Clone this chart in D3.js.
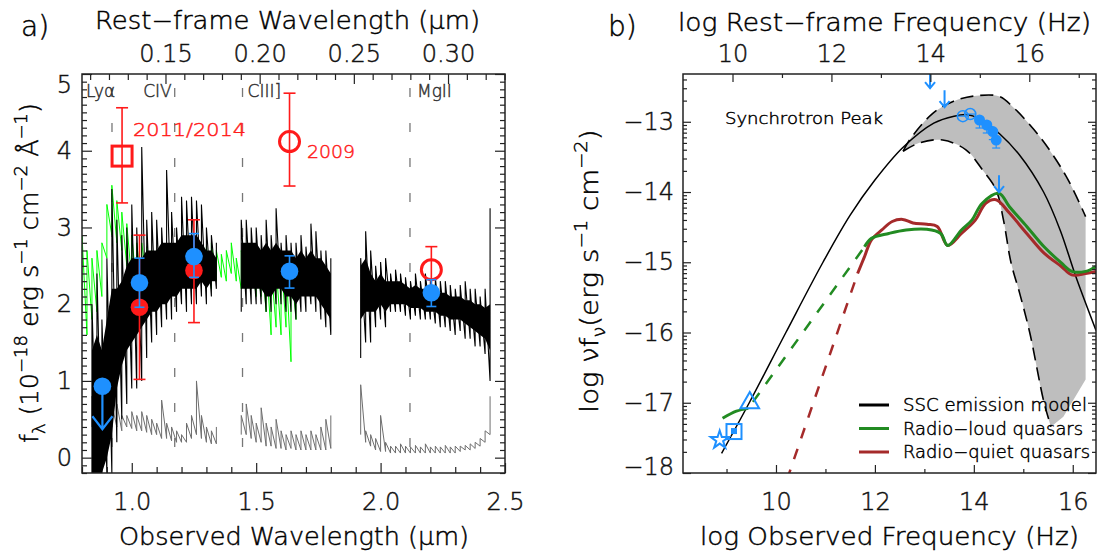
<!DOCTYPE html>
<html>
<head>
<meta charset="utf-8">
<script src="https://cdn.jsdelivr.net/npm/d3@7"></script>
<style>
body { margin: 0; background: #fff; }
text { font-family: "DejaVu Sans", sans-serif; font-weight: 200; }
</style>
</head>
<body>
<div id="chart"></div>
<script>
// ---------- panel a: spectrum ----------
var onePlusZ = 7.57;
var lineRest = [0.1216, 0.1549, 0.1909, 0.2798];
var lineNames = ["Lyα", "CIV", "CIII]", "MgII"];

// spectrum sampled in 0.02 um bins (three chunks with gaps between)
var specWave = [0.84,0.86,0.88,0.90,0.92,0.94,0.96,0.98,1.00,1.02,1.04,1.06,1.08,1.10,1.12,1.14,1.16,1.18,1.20,1.22,1.24,1.26,1.28,1.30,1.32,1.34,
  1.44,1.46,1.48,1.50,1.52,1.54,1.56,1.58,1.60,1.62,1.64,1.66,1.68,1.70,1.72,1.74,1.76,1.78,1.80,
  1.92,1.94,1.96,1.98,2.00,2.02,2.04,2.06,2.08,2.10,2.12,2.14,2.16,2.18,2.20,2.22,2.24,2.26,2.28,2.30,2.32,2.34,2.36,2.38,2.40,2.42,2.44];
var blackMin = [-0.2,-0.2,-0.2,-0.2,-0.2,0.2,0.5,0.7,0.9,0.9,1.0,1.3,1.5,1.6,1.7,1.8,1.8,1.9,2.0,1.9,2.0,2.0,2.1,2.0,2.1,2.2,
  1.9,2.0,2.0,2.0,2.0,1.9,1.9,2.0,2.0,1.9,1.9,1.8,1.9,1.9,2.0,1.9,1.8,1.7,1.6,
  1.3,1.5,1.5,1.7,1.8,1.7,1.9,1.9,1.9,1.85,1.8,1.85,1.8,1.8,1.8,1.75,1.7,1.7,1.65,1.6,1.65,1.55,1.55,1.45,1.45,1.35,1.0];
var blackLo = [-0.2,-0.2,-0.2,0.0,0.3,0.9,1.2,1.4,1.5,1.6,1.7,1.8,1.9,1.9,2.0,2.0,2.1,2.1,2.2,2.2,2.2,2.2,2.3,2.2,2.3,2.3,
  2.2,2.2,2.2,2.2,2.2,2.1,2.1,2.2,2.2,2.1,2.1,2.0,2.1,2.1,2.1,2.1,2.0,1.9,1.8,
  1.8,1.9,1.9,1.9,2.0,1.9,2.0,2.0,2.0,2.0,1.95,1.95,1.95,1.9,1.9,1.9,1.85,1.85,1.8,1.8,1.8,1.75,1.7,1.65,1.6,1.55,1.4];
var blackHi = [1.4,1.6,1.4,1.8,2.2,2.2,2.3,2.5,2.6,2.6,2.6,2.7,2.7,2.7,2.8,2.8,2.8,2.8,2.9,2.9,2.9,2.9,2.8,2.7,2.7,2.6,
  2.8,2.8,2.8,2.8,2.7,2.8,2.7,2.8,2.7,2.7,2.7,2.6,2.7,2.6,2.7,2.6,2.6,2.5,2.4,
  2.5,2.6,2.4,2.3,2.4,2.3,2.3,2.3,2.3,2.25,2.2,2.25,2.2,2.2,2.2,2.2,2.15,2.15,2.1,2.1,2.1,2.05,2.05,2.0,2.0,1.95,2.0];
var blackMax = [2.0,2.4,1.8,2.6,3.5,3.1,2.9,3.0,3.3,3.0,4.05,3.1,3.2,3.1,3.0,3.75,3.2,3.0,3.4,3.35,3.4,3.35,3.3,3.0,2.9,2.8,
  3.1,3.1,3.0,3.0,2.9,3.1,2.9,3.25,2.8,2.9,2.8,2.8,2.9,2.75,3.05,2.95,2.7,2.7,2.6,
  2.6,2.95,2.7,2.5,2.55,2.6,2.4,2.45,2.4,2.35,2.3,2.4,2.3,2.4,2.3,2.35,2.3,2.3,2.25,2.2,2.25,2.3,2.2,2.2,2.1,2.2,3.25];
var errLo = [0.4,0.5,0.5,0.45,0.4,0.4,0.35,0.4,0.38,0.35,0.35,0.33,0.3,0.3,0.25,0.25,0.22,0.2,0.2,0.2,0.25,0.3,0.25,0.2,0.18,0.18,
  0.3,0.3,0.25,0.2,0.2,0.15,0.15,0.12,0.12,0.1,0.12,0.1,0.1,0.1,0.1,0.1,0.1,0.1,0.12,
  0.3,0.2,0.15,0.1,0.08,0.08,0.06,0.06,0.06,0.06,0.06,0.06,0.06,0.06,0.06,0.06,0.06,0.06,0.06,0.06,0.08,0.1,0.1,0.12,0.15,0.2,0.3];
var errHi = [0.8,0.9,0.8,0.75,0.7,0.7,0.55,0.55,0.6,0.55,0.6,0.55,0.5,0.45,0.75,0.45,0.4,0.35,0.3,0.45,0.55,1.0,0.55,0.4,0.35,0.4,
  0.55,0.7,0.55,0.45,0.65,0.45,0.4,0.5,0.35,0.3,0.35,0.3,0.35,0.3,0.35,0.3,0.4,0.5,0.55,
  0.95,0.35,0.3,0.25,0.55,0.2,0.15,0.15,0.18,0.15,0.14,0.16,0.14,0.18,0.14,0.15,0.14,0.16,0.14,0.15,0.15,0.16,0.18,0.2,0.25,0.35,0.8];

// second (green) spectrum
var greenWave = [0.80,0.82,0.84,0.86,0.88,0.90,0.92,0.94,0.96,0.98,1.00,1.02,1.04,1.06,1.08,1.10,1.12,1.14,1.16,1.18,1.20,1.22,
  1.24,1.26,1.28,1.30,1.32,1.34,1.36,1.38,1.40,1.42,1.44,1.46,1.48,1.50,1.52,1.54,1.56,1.58,1.60,1.62,1.64,1.66];
var greenLo = [1.9,1.6,1.8,1.9,2.1,2.6,2.9,2.8,2.7,2.5,2.3,2.2,2.2,2.3,2.2,2.2,2.2,2.25,2.2,2.2,2.2,2.3,
  2.3,2.2,2.3,2.3,2.2,2.3,2.35,2.3,2.4,2.3,2.2,2.2,2.2,2.1,2.1,1.9,1.6,1.7,1.6,1.7,1.25,1.8];
var greenHi = [2.9,2.7,2.6,2.7,2.8,3.3,3.55,3.35,3.2,3.05,2.9,2.8,2.8,2.75,2.7,2.7,2.65,2.7,2.6,2.6,2.65,2.7,
  2.6,2.7,2.7,2.75,2.8,2.7,2.65,2.7,2.8,2.6,2.7,2.7,2.6,2.6,2.7,2.6,2.5,2.5,2.6,2.5,2.5,2.4];

// photometry (10^-18 erg/s/cm2/A)
var redWave = [0.961, 1.634, 2.204, 1.031, 1.25];
var redFlux = [3.93, 4.12, 2.45, 1.96, 2.44];
var redLo = [3.32, 3.54, 2.2, 1.02, 1.76];
var redHi = [4.56, 4.75, 2.75, 2.9, 3.1];
var redSet = ["2011/2014", "2009", "2009", "other", "other"];
var blueWave = [1.031, 1.25, 1.634, 2.204];
var blueFlux = [2.28, 2.62, 2.43, 2.15];
var blueLo = [1.96, 2.35, 2.21, 1.97];
var blueHi = [2.6, 2.92, 2.63, 2.32];
var blueLimWave = [0.882];
var blueLimFlux = [0.93];
var blueLimTo = [0.37];

// ---------- panel b: SED ----------
var sscNu = [8.90, 9.46, 10.2, 10.95, 11.5, 12.0, 12.56, 13.19, 13.6, 13.88, 14.12, 14.52, 14.92, 15.41, 15.75, 16.06, 16.47];
var sscF = [-17.72, -17.0, -16.0, -15.0, -14.33, -13.83, -13.37, -13.02, -12.92, -12.90, -12.96, -13.17, -13.47, -14.0, -14.55, -15.2, -15.97];
var bandUpNu = [12.57, 12.70, 13.17, 13.58, 14.05, 14.52, 14.79, 15.33, 15.87, 16.26];
var bandUpF = [-13.42, -13.26, -12.88, -12.71, -12.63, -12.64, -12.79, -13.21, -13.78, -14.35];
var bandLowNu = [12.57, 12.9, 13.37, 13.84, 14.18, 14.45, 14.6, 14.75, 14.93, 15.13, 15.42, 15.56];
var bandLowF = [-13.42, -13.3, -13.26, -13.4, -13.69, -13.97, -14.4, -15.0, -15.45, -16.0, -17.0, -17.34];
var bandEdgeNu = [16.26, 15.81];
var bandEdgeF = [-16.67, -17.2];
var rlRadioNu = [8.92, 9.2, 9.44];
var rlRadioF = [-17.22, -17.12, -17.08];
var rlGapNu = [9.44, 11.79];
var rlGapF = [-17.08, -14.78];
var rlNu = [11.79, 11.93, 12.28, 12.63, 13.05, 13.33, 13.47, 13.75, 13.96, 14.17, 14.51, 14.72, 15.07, 15.42, 15.77, 15.98, 16.26, 16.47];
var rlF = [-14.78, -14.66, -14.59, -14.54, -14.53, -14.59, -14.76, -14.54, -14.40, -14.16, -14.02, -14.21, -14.49, -14.78, -15.01, -15.13, -15.13, -15.06];
var rqGapNu = [10.22, 11.65];
var rqGapF = [-18.1, -15.16];
var rqNu = [11.65, 11.79, 11.93, 12.14, 12.35, 12.56, 12.77, 13.05, 13.26, 13.47, 13.75, 14.03, 14.24, 14.45, 14.72, 15.07, 15.42, 15.77, 15.98, 16.26, 16.47];
var rqF = [-15.16, -14.92, -14.68, -14.54, -14.42, -14.39, -14.44, -14.46, -14.49, -14.76, -14.59, -14.40, -14.16, -14.11, -14.30, -14.59, -14.87, -15.06, -15.18, -15.16, -15.13];
var starPt = [8.862, -17.53];
var squarePt = [9.151, -17.41];
var trianglePt = [9.47, -17.0];
var openNu = [13.778, 13.927];
var openF = [-12.92, -12.89];
var filledNu = [14.115, 14.262, 14.384, 14.452];
var filledF = [-12.975, -13.046, -13.14, -13.26];
var limNu = [13.115, 13.408, 14.509];
var limF = [-12.28, -12.55, -13.76];
var legendNames = ["SSC emission model", "Radio−loud quasars", "Radio−quiet quasars"];

// ---------- drawing ----------
var width = 1103, height = 555;
var ink = "#222";
var red = "#ff1a1a", blue = "#1e90ff", lime = "#00ff00";
var green = "#228b22", brown = "#a52a2a";

var svg = d3.select("#chart").append("svg")
  .attr("width", width)
  .attr("height", height);

function zip(a, b) { return a.map(function (v, i) { return [v, b[i]]; }); }

function chunksOf(wave) {
  var segs = [[]];
  wave.forEach(function (w, i) {
    if (i > 0 && w - wave[i - 1] > 0.05) segs.push([]);
    segs[segs.length - 1].push(i);
  });
  return segs;
}

function addAxis(g, gen, vals, len, fmt, pad) {
  g.call(gen.tickValues(vals).tickSizeInner(-len).tickSizeOuter(0)
    .tickPadding(pad || 0).tickFormat(fmt || function () { return ""; }));
  g.select(".domain").remove();
  g.selectAll(".tick line").attr("stroke", ink).attr("stroke-width", 1.2);
  g.selectAll(".tick text").attr("font-size", 24).attr("fill", "#111");
  return g;
}

// ===== panel a =====
var fa = {left: 82, right: 505, top: 74, bottom: 473};
var xA = d3.scaleLinear().domain([0.8, 2.5]).range([fa.left, fa.right]);
var xRest = d3.scaleLinear().domain([0.8 / onePlusZ, 2.5 / onePlusZ]).range([fa.left, fa.right]);
var yA = d3.scaleLinear().domain([-0.2, 5]).range([fa.bottom, fa.top]);

svg.append("clipPath").attr("id", "clipA").append("rect")
  .attr("x", fa.left).attr("y", fa.top)
  .attr("width", fa.right - fa.left).attr("height", fa.bottom - fa.top);
var pa = svg.append("g").attr("clip-path", "url(#clipA)");

// emission line markers
pa.selectAll("line.em")
  .data(lineRest)
  .enter().append("line")
    .attr("x1", function (d) { return xA(d * onePlusZ); })
    .attr("x2", function (d) { return xA(d * onePlusZ); })
    .attr("y1", fa.top).attr("y2", fa.bottom)
    .attr("stroke", "#777").attr("stroke-width", 1.3)
    .attr("stroke-dasharray", "9,26").attr("stroke-dashoffset", 21);

var lineA = d3.line().x(function (d) { return xA(d[0]); }).y(function (d) { return yA(d[1]); });

function zig(wave, lo, hi) {
  return chunksOf(wave).map(function (seg) {
    var pts = [];
    seg.forEach(function (i) { pts.push([wave[i], lo[i]], [wave[i], hi[i]]); });
    return pts;
  });
}

// error spectrum (grey)
pa.selectAll("path.err")
  .data(zig(specWave, errLo, errHi))
  .enter().append("path")
    .attr("d", lineA).attr("fill", "none").attr("stroke", "#6e6e6e").attr("stroke-width", 1);

// green spectrum
pa.selectAll("path.grn")
  .data(zig(greenWave, greenLo, greenHi))
  .enter().append("path")
    .attr("d", lineA).attr("fill", "none").attr("stroke", lime).attr("stroke-width", 1);

// black spectrum: dense core + spikes
var areaA = d3.area()
  .x(function (i) { return xA(specWave[i]); })
  .y0(function (i) { return yA(blackLo[i]); })
  .y1(function (i) { return yA(blackHi[i]); });
pa.selectAll("path.core")
  .data(chunksOf(specWave))
  .enter().append("path")
    .attr("d", areaA).attr("fill", "#000");
pa.selectAll("path.spk")
  .data(zig(specWave, blackMin, blackMax))
  .enter().append("path")
    .attr("d", lineA).attr("fill", "none").attr("stroke", "#000").attr("stroke-width", 1.1);

// emission line names
var nameOffset = [-26, -3, 5, 7];
var nameAnchor = ["start", "end", "start", "start"];
svg.selectAll("text.em")
  .data(lineNames)
  .enter().append("text")
    .attr("x", function (d, i) { return xA(lineRest[i] * onePlusZ) + nameOffset[i]; })
    .attr("y", 97)
    .attr("text-anchor", function (d, i) { return nameAnchor[i]; })
    .attr("font-size", 17).attr("fill", "#333")
    .text(function (d) { return d; });

// red photometry
redWave.forEach(function (w, i) {
  var x = xA(w);
  pa.append("line").attr("x1", x).attr("x2", x).attr("y1", yA(redLo[i])).attr("y2", yA(redHi[i]))
    .attr("stroke", red).attr("stroke-width", 1.6);
  [redLo[i], redHi[i]].forEach(function (v) {
    pa.append("line").attr("x1", x - 6).attr("x2", x + 6).attr("y1", yA(v)).attr("y2", yA(v))
      .attr("stroke", red).attr("stroke-width", 1.6);
  });
  var y = yA(redFlux[i]);
  if (redSet[i] === "2011/2014") {
    pa.append("rect").attr("x", x - 10).attr("y", y - 10).attr("width", 20).attr("height", 20)
      .attr("fill", "none").attr("stroke", red).attr("stroke-width", 3);
  } else if (redSet[i] === "2009") {
    pa.append("circle").attr("cx", x).attr("cy", y).attr("r", 10)
      .attr("fill", "none").attr("stroke", red).attr("stroke-width", 3);
  } else {
    pa.append("circle").attr("cx", x).attr("cy", y).attr("r", 8.8).attr("fill", red);
  }
});
svg.append("text").attr("x", 133).attr("y", 136).attr("font-size", 18).attr("fill", red)
  .attr("textLength", 113).attr("lengthAdjust", "spacingAndGlyphs").text("2011/2014");
svg.append("text").attr("x", 307).attr("y", 158).attr("font-size", 18).attr("fill", red)
  .attr("textLength", 48).attr("lengthAdjust", "spacingAndGlyphs").text("2009");

// blue photometry
blueWave.forEach(function (w, i) {
  var x = xA(w);
  pa.append("line").attr("x1", x).attr("x2", x).attr("y1", yA(blueLo[i])).attr("y2", yA(blueHi[i]))
    .attr("stroke", blue).attr("stroke-width", 1.6);
  [blueLo[i], blueHi[i]].forEach(function (v) {
    pa.append("line").attr("x1", x - 5).attr("x2", x + 5).attr("y1", yA(v)).attr("y2", yA(v))
      .attr("stroke", blue).attr("stroke-width", 1.6);
  });
  pa.append("circle").attr("cx", x).attr("cy", yA(blueFlux[i])).attr("r", 8.8).attr("fill", blue);
});
blueLimWave.forEach(function (w, i) {
  var x = xA(w), y1 = yA(blueLimFlux[i]), y2 = yA(blueLimTo[i]);
  pa.append("path").attr("d", "M" + x + "," + y1 + "L" + x + "," + y2 +
      "M" + (x - 10) + "," + (y2 - 13) + "L" + x + "," + y2 + "L" + (x + 10) + "," + (y2 - 13))
    .attr("fill", "none").attr("stroke", blue).attr("stroke-width", 2.2);
  pa.append("circle").attr("cx", x).attr("cy", y1).attr("r", 8.8).attr("fill", blue);
});

// axes a
var majX = [1.0, 1.5, 2.0, 2.5];
var minX = d3.range(8, 26).map(function (d) { return d / 10; }).filter(function (d) { return majX.indexOf(d) < 0; });
var majY = [0, 1, 2, 3, 4, 5];
var minY = d3.range(-2, 51).map(function (d) { return d / 10; }).filter(function (d) { return d % 1 !== 0; });
var majR = [0.15, 0.20, 0.25, 0.30];
var minR = d3.range(11, 34).map(function (d) { return d / 100; }).filter(function (d) { return d % 0.05 > 0.001 && d % 0.05 < 0.049; });

addAxis(svg.append("g").attr("transform", "translate(0," + fa.bottom + ")"), d3.axisBottom(xA), majX, 10, d3.format(".1f"), 20);
addAxis(svg.append("g").attr("transform", "translate(0," + fa.bottom + ")"), d3.axisBottom(xA), minX, 6);
addAxis(svg.append("g").attr("transform", "translate(0," + fa.top + ")"), d3.axisTop(xRest), majR, 10, d3.format(".2f"), 12);
addAxis(svg.append("g").attr("transform", "translate(0," + fa.top + ")"), d3.axisTop(xRest), minR, 6);
var leftA = addAxis(svg.append("g").attr("transform", "translate(" + fa.left + ",0)"), d3.axisLeft(yA), majY, 10, d3.format("d"), 10);
leftA.selectAll(".tick text").filter(function (d) { return d === 5; }).attr("y", 11);
addAxis(svg.append("g").attr("transform", "translate(" + fa.left + ",0)"), d3.axisLeft(yA), minY, 5);
addAxis(svg.append("g").attr("transform", "translate(" + fa.right + ",0)"), d3.axisRight(yA), majY, 10);
addAxis(svg.append("g").attr("transform", "translate(" + fa.right + ",0)"), d3.axisRight(yA), minY, 5);
svg.append("rect").attr("x", fa.left).attr("y", fa.top)
  .attr("width", fa.right - fa.left).attr("height", fa.bottom - fa.top)
  .attr("fill", "none").attr("stroke", ink).attr("stroke-width", 1.5);

svg.append("text").attr("x", 21).attr("y", 36).attr("font-size", 28).text("a)");
svg.append("text").attr("x", 95).attr("y", 29).attr("font-size", 24)
  .attr("textLength", 385).attr("lengthAdjust", "spacingAndGlyphs").text("Rest−frame Wavelength (μm)");
svg.append("text").attr("x", 119).attr("y", 545).attr("font-size", 24)
  .attr("textLength", 350).attr("lengthAdjust", "spacingAndGlyphs").text("Observed Wavelength (μm)");
var ytA = svg.append("text").attr("transform", "translate(38,273) rotate(-90)")
  .attr("text-anchor", "middle").attr("font-size", 24)
  .attr("textLength", 340).attr("lengthAdjust", "spacingAndGlyphs");
ytA.append("tspan").text("f");
ytA.append("tspan").attr("dy", 7).attr("font-size", 17).text("λ");
ytA.append("tspan").attr("dy", -7).text(" (10");
ytA.append("tspan").attr("dy", -11).attr("font-size", 17).text("−18");
ytA.append("tspan").attr("dy", 11).text(" erg s");
ytA.append("tspan").attr("dy", -11).attr("font-size", 17).text("−1");
ytA.append("tspan").attr("dy", 11).text(" cm");
ytA.append("tspan").attr("dy", -11).attr("font-size", 17).text("−2");
ytA.append("tspan").attr("dy", 11).text(" Å");
ytA.append("tspan").attr("dy", -11).attr("font-size", 17).text("−1");
ytA.append("tspan").attr("dy", 11).text(")");

// ===== panel b =====
var fb = {left: 683, right: 1096, top: 74, bottom: 473};
var logZ = Math.log10(onePlusZ);
var xB = d3.scaleLinear().domain([8.12, 16.47]).range([fb.left, fb.right]);
var xRestB = d3.scaleLinear().domain([8.12 + logZ, 16.47 + logZ]).range([fb.left, fb.right]);
var yB = d3.scaleLinear().domain([-18, -12.32]).range([fb.bottom, fb.top]);

svg.append("clipPath").attr("id", "clipB").append("rect")
  .attr("x", fb.left).attr("y", fb.top)
  .attr("width", fb.right - fb.left).attr("height", fb.bottom - fb.top);
var pb = svg.append("g").attr("clip-path", "url(#clipB)");

var lineB = d3.line().x(function (d) { return xB(d[0]); }).y(function (d) { return yB(d[1]); });
var smoothB = d3.line().curve(d3.curveCatmullRom).x(function (d) { return xB(d[0]); }).y(function (d) { return yB(d[1]); });

// model spread band
var upPts = zip(bandUpNu, bandUpF);
var lowPts = zip(bandLowNu, bandLowF);
var edgePts = zip(bandEdgeNu, bandEdgeF);
var bandPath = smoothB(upPts) + lineB(edgePts).replace(/^M/, "L") +
  smoothB(lowPts.slice().reverse()).replace(/^M/, "L") + "Z";
pb.append("path").attr("d", bandPath).attr("fill", "#bebebe");
pb.append("path").attr("d", smoothB(upPts)).attr("fill", "none").attr("stroke", "#000")
  .attr("stroke-width", 1.6).attr("stroke-dasharray", "13,7");
pb.append("path").attr("d", smoothB(lowPts)).attr("fill", "none").attr("stroke", "#000")
  .attr("stroke-width", 1.6).attr("stroke-dasharray", "13,7");

// SSC model
pb.append("path").attr("d", smoothB(zip(sscNu, sscF))).attr("fill", "none")
  .attr("stroke", "#000").attr("stroke-width", 1.5);

// quasar templates
pb.append("path").attr("d", lineB(zip(rqGapNu, rqGapF))).attr("fill", "none")
  .attr("stroke", brown).attr("stroke-width", 2.5).attr("stroke-dasharray", "11,11");
pb.append("path").attr("d", smoothB(zip(rqNu, rqF))).attr("fill", "none")
  .attr("stroke", brown).attr("stroke-width", 3);
pb.append("path").attr("d", lineB(zip(rlGapNu, rlGapF))).attr("fill", "none")
  .attr("stroke", green).attr("stroke-width", 2.5).attr("stroke-dasharray", "11,11").attr("stroke-dashoffset", -8);
pb.append("path").attr("d", smoothB(zip(rlRadioNu, rlRadioF))).attr("fill", "none")
  .attr("stroke", green).attr("stroke-width", 3);
pb.append("path").attr("d", smoothB(zip(rlNu, rlF))).attr("fill", "none")
  .attr("stroke", green).attr("stroke-width", 3);

// blue measurements
pb.append("path").attr("d", d3.symbol(d3.symbolStar, 100)())
  .attr("transform", "translate(" + xB(starPt[0]) + "," + yB(starPt[1]) + ")")
  .attr("fill", "none").attr("stroke", blue).attr("stroke-width", 2);
pb.append("rect").attr("x", xB(squarePt[0]) - 7.5).attr("y", yB(squarePt[1]) - 7.5)
  .attr("width", 15).attr("height", 15).attr("fill", "none").attr("stroke", blue).attr("stroke-width", 2);
pb.append("rect").attr("x", xB(squarePt[0]) - 3).attr("y", yB(squarePt[1]) - 3.5)
  .attr("width", 6).attr("height", 6).attr("fill", blue);
pb.append("path").attr("d", d3.symbol(d3.symbolTriangle, 150)())
  .attr("transform", "translate(" + xB(trianglePt[0]) + "," + yB(trianglePt[1]) + ")")
  .attr("fill", "none").attr("stroke", blue).attr("stroke-width", 2);
openNu.forEach(function (n, i) {
  pb.append("circle").attr("cx", xB(n)).attr("cy", yB(openF[i])).attr("r", 5.5)
    .attr("fill", "none").attr("stroke", blue).attr("stroke-width", 1.5);
  pb.append("line").attr("x1", xB(n) - 6).attr("x2", xB(n) + 6).attr("y1", yB(openF[i])).attr("y2", yB(openF[i]))
    .attr("stroke", blue).attr("stroke-width", 1.2);
});
filledNu.forEach(function (n, i) {
  var x = xB(n), y = yB(filledF[i]);
  pb.append("line").attr("x1", x).attr("x2", x).attr("y1", y - 5).attr("y2", y + 8)
    .attr("stroke", blue).attr("stroke-width", 1.2);
  pb.append("line").attr("x1", x - 4).attr("x2", x + 4).attr("y1", y + 8).attr("y2", y + 8)
    .attr("stroke", blue).attr("stroke-width", 1.2);
  pb.append("circle").attr("cx", x).attr("cy", y).attr("r", 5.5).attr("fill", blue);
});
limNu.forEach(function (n, i) {
  var x = xB(n), y1 = yB(limF[i]), y2 = y1 + 17;
  pb.append("path").attr("d", "M" + x + "," + y1 + "L" + x + "," + y2 +
      "M" + (x - 5) + "," + (y2 - 6) + "L" + x + "," + y2 + "L" + (x + 5) + "," + (y2 - 6))
    .attr("fill", "none").attr("stroke", blue).attr("stroke-width", 2);
});

svg.append("text").attr("x", 725).attr("y", 124).attr("font-size", 16)
  .attr("textLength", 158).attr("lengthAdjust", "spacingAndGlyphs").text("Synchrotron Peak");

// legend
var legendColors = ["#000", green, brown];
var legendLen = [184, 180, 187];
var lg = svg.append("g");
legendNames.forEach(function (name, i) {
  var y = 405 + i * 23.5;
  lg.append("line").attr("x1", 859).attr("x2", 889).attr("y1", y).attr("y2", y)
    .attr("stroke", legendColors[i]).attr("stroke-width", 3);
  lg.append("text").attr("x", 903).attr("y", y + 6).attr("font-size", 17)
    .attr("textLength", legendLen[i]).attr("lengthAdjust", "spacingAndGlyphs").text(name);
});

// axes b
var majXB = [10, 12, 14, 16];
var minXB = [9, 11, 13, 15];
var minXRB = [11, 13, 15, 17];
var majYB = [-18, -17, -16, -15, -14, -13];
var minYB = [];
d3.range(-18, -12).forEach(function (n) {
  d3.range(2, 10).forEach(function (k) {
    var v = n + Math.log10(k);
    if (v < -12.32) minYB.push(v);
  });
});
addAxis(svg.append("g").attr("transform", "translate(0," + fb.bottom + ")"), d3.axisBottom(xB), majXB, 8, d3.format("d"), 20);
addAxis(svg.append("g").attr("transform", "translate(0," + fb.bottom + ")"), d3.axisBottom(xB), minXB, 4);
addAxis(svg.append("g").attr("transform", "translate(0," + fb.top + ")"), d3.axisTop(xRestB), majXB, 8, d3.format("d"), 12);
addAxis(svg.append("g").attr("transform", "translate(0," + fb.top + ")"), d3.axisTop(xRestB), minXRB, 4);
var leftB = addAxis(svg.append("g").attr("transform", "translate(" + fb.left + ",0)"), d3.axisLeft(yB), majYB, 8, d3.format("d"), 9);
leftB.selectAll(".tick text").filter(function (d) { return d === -18; }).attr("y", -6);
addAxis(svg.append("g").attr("transform", "translate(" + fb.left + ",0)"), d3.axisLeft(yB), minYB, 4);
addAxis(svg.append("g").attr("transform", "translate(" + fb.right + ",0)"), d3.axisRight(yB), majYB, 8);
addAxis(svg.append("g").attr("transform", "translate(" + fb.right + ",0)"), d3.axisRight(yB), minYB, 4);
svg.append("rect").attr("x", fb.left).attr("y", fb.top)
  .attr("width", fb.right - fb.left).attr("height", fb.bottom - fb.top)
  .attr("fill", "none").attr("stroke", ink).attr("stroke-width", 1.5);

svg.append("text").attr("x", 608).attr("y", 36).attr("font-size", 28).text("b)");
svg.append("text").attr("x", 678).attr("y", 31).attr("font-size", 24)
  .attr("textLength", 413).attr("lengthAdjust", "spacingAndGlyphs").text("log Rest−frame Frequency (Hz)");
svg.append("text").attr("x", 700).attr("y", 545).attr("font-size", 24)
  .attr("textLength", 379).attr("lengthAdjust", "spacingAndGlyphs").text("log Observed Frequency (Hz)");
var ytB = svg.append("text").attr("transform", "translate(598,271) rotate(-90)")
  .attr("text-anchor", "middle").attr("font-size", 24)
  .attr("textLength", 283).attr("lengthAdjust", "spacingAndGlyphs");
ytB.append("tspan").text("log νf");
ytB.append("tspan").attr("dy", 7).attr("font-size", 17).text("ν");
ytB.append("tspan").attr("dy", -7).text("(erg s");
ytB.append("tspan").attr("dy", -11).attr("font-size", 17).text("−1");
ytB.append("tspan").attr("dy", 11).text(" cm");
ytB.append("tspan").attr("dy", -11).attr("font-size", 17).text("−2");
ytB.append("tspan").attr("dy", 11).text(")");

// thicken the thin glyph strokes slightly, in each text's own colour
svg.selectAll("text").each(function () {
  var t = d3.select(this);
  t.attr("stroke", t.attr("fill") || "#000").attr("stroke-width", 0.45);
});
</script>
</body>
</html>
